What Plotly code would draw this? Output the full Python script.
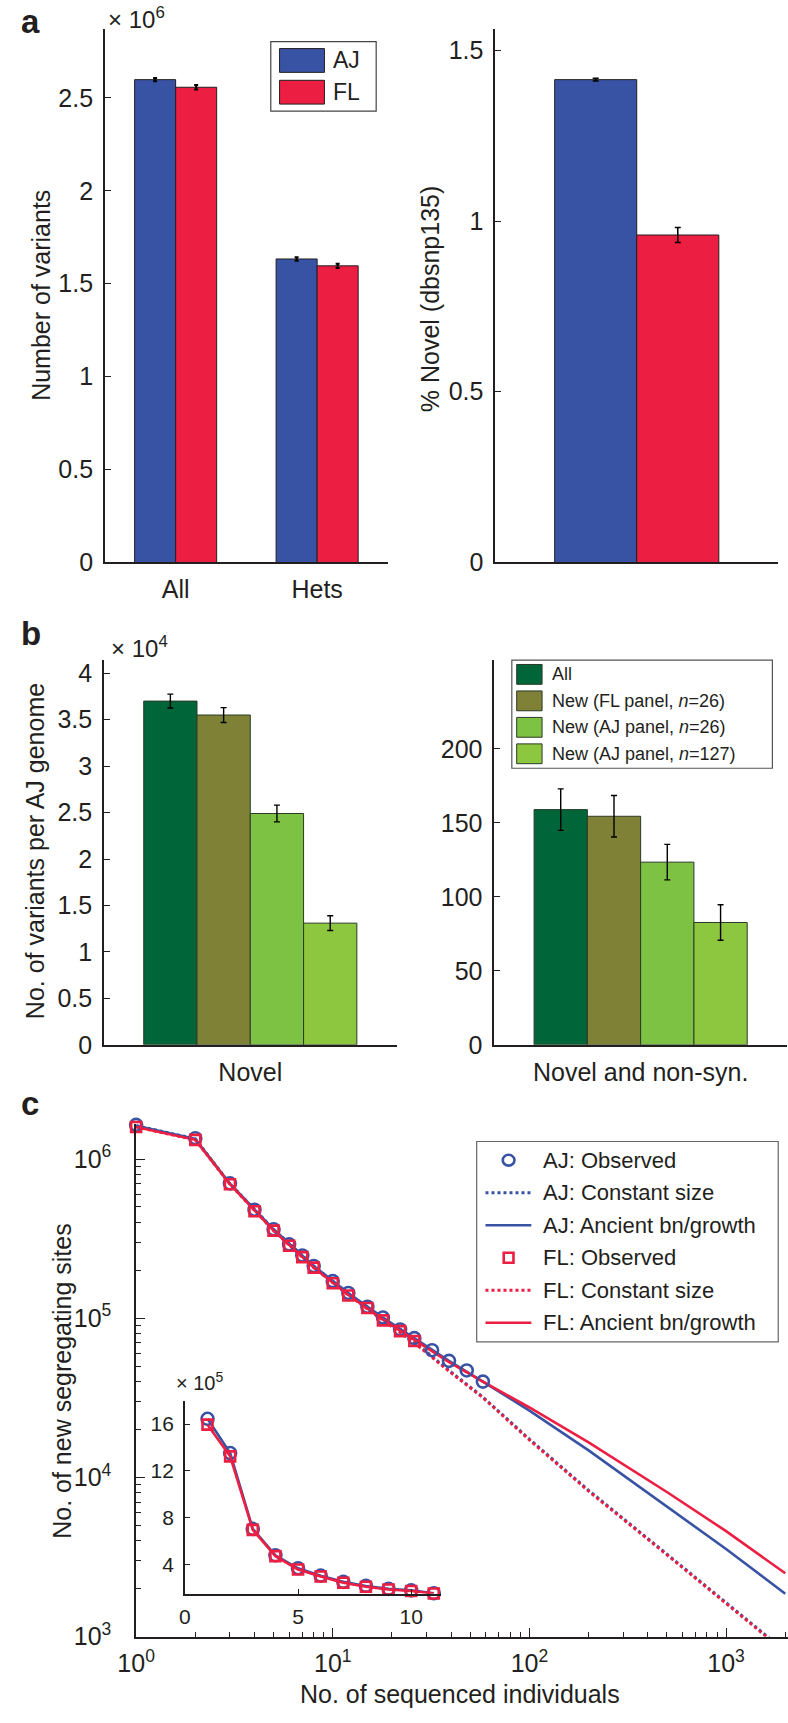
import plotly.graph_objects as go

W, H = 788, 1723


def fx(p):
    return p / W


def fy(p):
    return 1 - p / H


FONT = "Liberation Sans, Arial, Helvetica, sans-serif"
INK = "#231f20"
BLUE = "#3953a4"
RED = "#ec1e42"

# ---------------- panel a ----------------
a_categories = ["All", "Hets"]
a_pops = ["AJ", "FL"]
a_pop_colors = [BLUE, RED]
a_aj_variants = [2.598e6, 1.633e6]
a_aj_err = [0.009e6, 0.009e6]
a_fl_variants = [2.557e6, 1.596e6]
a_fl_err = [0.012e6, 0.011e6]
a_novel_pct = [1.414, 0.959]          # AJ, FL
a_novel_err = [0.004, 0.022]

# ---------------- panel b ----------------
b_sets = ["All", "New (FL panel, <i>n</i>=26)", "New (AJ panel, <i>n</i>=26)",
          "New (AJ panel, <i>n</i>=127)"]
b_colors = ["#00663a", "#7f8236", "#7dc242", "#8dc63f"]
b_categories = ["Novel", "Novel and non-syn."]
b_novel = [3.70e4, 3.55e4, 2.49e4, 1.31e4]
b_novel_err = [0.075e4, 0.08e4, 0.09e4, 0.08e4]
b_nonsyn = [159, 154.5, 123.5, 82.7]
b_nonsyn_err = [14, 14, 12, 12]

# ---------------- panel c ----------------
c_n_aj = [1, 2, 3, 4, 5, 6, 7, 8, 10, 12, 15, 18, 22, 26, 32, 39, 48, 58]
c_obs_aj = [1.64e6, 1.35e6, 7.03e5, 4.80e5, 3.62e5, 2.91e5, 2.48e5, 2.13e5, 1.71e5,
            1.44e5, 1.18e5, 1.01e5, 8.5e4, 7.5e4, 6.3e4, 5.4e4, 4.7e4, 4.0e4]
c_n_fl = [1, 2, 3, 4, 5, 6, 7, 8, 10, 12, 15, 18, 22, 26]
c_obs_fl = [1.59e6, 1.32e6, 6.95e5, 4.70e5, 3.55e5, 2.85e5, 2.42e5, 2.08e5, 1.66e5,
            1.39e5, 1.16e5, 9.7e4, 8.3e4, 7.2e4]
c_n_model = [1, 2, 3, 5, 8, 12, 18, 26, 39, 58, 100, 200, 500, 1000, 2000]
c_const_aj = [1.62e6, 1.34e6, 7.0e5, 3.62e5, 2.13e5, 1.42e5, 9.8e4, 7.1e4, 4.7e4,
              3.2e4, 1.74e4, 8.3e3, 3.3e3, 1.64e3, 8.1e2]
c_const_fl = [1.59e6, 1.32e6, 6.95e5, 3.55e5, 2.08e5, 1.40e5, 9.7e4, 7.0e4, 4.65e4,
              3.17e4, 1.72e4, 8.2e3, 3.27e3, 1.63e3, 8.0e2]
c_growth_aj = [1.62e6, 1.34e6, 7.0e5, 3.62e5, 2.13e5, 1.44e5, 1.01e5, 7.5e4, 5.4e4,
               4.0e4, 2.63e4, 1.48e4, 6.6e3, 3.55e3, 1.86e3]
c_growth_fl = [1.59e6, 1.32e6, 6.95e5, 3.55e5, 2.08e5, 1.40e5, 9.8e4, 7.3e4, 5.3e4,
               4.0e4, 2.75e4, 1.66e4, 8.1e3, 4.6e3, 2.5e3]
c_legend = ["AJ: Observed", "AJ: Constant size", "AJ: Ancient bn/growth",
            "FL: Observed", "FL: Constant size", "FL: Ancient bn/growth"]

# inset (values in units of 1e5)
inset_n = [1, 2, 3, 4, 5, 6, 7, 8, 9, 10, 11]
inset_aj = [16.45, 13.52, 7.03, 4.77, 3.66, 3.03, 2.50, 2.15, 1.90, 1.77, 1.52]
inset_fl = [15.95, 13.24, 6.95, 4.70, 3.55, 2.95, 2.42, 2.08, 1.85, 1.72, 1.50]

fig = go.Figure()

# ---- panel a bars
bar_w_a = 0.29
for i, (vals, errs) in enumerate([(a_aj_variants, a_aj_err), (a_fl_variants, a_fl_err)]):
    fig.add_trace(go.Bar(
        x=a_categories, y=[v / 1e6 for v in vals], offset=-bar_w_a + i * bar_w_a, width=bar_w_a,
        marker=dict(color=a_pop_colors[i], line=dict(color=INK, width=1)),
        error_y=dict(type="data", array=[e / 1e6 for e in errs], color="black", thickness=2, width=2),
        xaxis="x", yaxis="y", showlegend=False, name=a_pops[i]))
for i in range(2):
    fig.add_trace(go.Bar(
        x=["novel"], y=[a_novel_pct[i]], offset=-bar_w_a + i * bar_w_a, width=bar_w_a,
        marker=dict(color=a_pop_colors[i], line=dict(color=INK, width=1)),
        error_y=dict(type="data", array=[a_novel_err[i]], color="black", thickness=1.6, width=3),
        xaxis="x2", yaxis="y2", showlegend=False, name=a_pops[i]))

# ---- panel b bars
bar_w_b = 0.182
for i in range(4):
    fig.add_trace(go.Bar(
        x=[b_categories[0]], y=[b_novel[i] / 1e4], offset=-2 * bar_w_b + i * bar_w_b, width=bar_w_b,
        marker=dict(color=b_colors[i], line=dict(color="#2b3a27", width=1)),
        error_y=dict(type="data", array=[b_novel_err[i] / 1e4], color="black", thickness=1.4, width=3),
        xaxis="x3", yaxis="y3", showlegend=False, name=b_sets[i]))
    fig.add_trace(go.Bar(
        x=[b_categories[1]], y=[b_nonsyn[i]], offset=-2 * bar_w_b + i * bar_w_b, width=bar_w_b,
        marker=dict(color=b_colors[i], line=dict(color="#2b3a27", width=1)),
        error_y=dict(type="data", array=[b_nonsyn_err[i]], color="black", thickness=1.4, width=3),
        xaxis="x4", yaxis="y4", showlegend=False, name=b_sets[i]))

# ---- panel c main
fig.add_trace(go.Scatter(x=c_n_model, y=c_const_aj, mode="lines",
                         line=dict(color=BLUE, width=3, dash="dot"), xaxis="x5", yaxis="y5",
                         showlegend=False, name=c_legend[1]))
fig.add_trace(go.Scatter(x=c_n_model, y=c_const_fl, mode="lines",
                         line=dict(color=RED, width=3, dash="dot"), xaxis="x5", yaxis="y5",
                         showlegend=False, name=c_legend[4]))
fig.add_trace(go.Scatter(x=c_n_model, y=c_growth_aj, mode="lines",
                         line=dict(color=BLUE, width=2.6), xaxis="x5", yaxis="y5",
                         showlegend=False, name=c_legend[2]))
fig.add_trace(go.Scatter(x=c_n_model, y=c_growth_fl, mode="lines",
                         line=dict(color=RED, width=2.6), xaxis="x5", yaxis="y5",
                         showlegend=False, name=c_legend[5]))
fig.add_trace(go.Scatter(x=c_n_aj, y=c_obs_aj, mode="markers", cliponaxis=False,
                         marker=dict(symbol="circle-open", size=12, color=BLUE, line=dict(width=2.6)),
                         xaxis="x5", yaxis="y5", showlegend=False, name=c_legend[0]))
fig.add_trace(go.Scatter(x=c_n_fl, y=c_obs_fl, mode="markers", cliponaxis=False,
                         marker=dict(symbol="square-open", size=10, color=RED, line=dict(width=2.6)),
                         xaxis="x5", yaxis="y5", showlegend=False, name=c_legend[3]))

# ---- inset
fig.add_trace(go.Scatter(x=inset_n, y=inset_aj, mode="lines+markers", cliponaxis=False,
                         line=dict(color=BLUE, width=2.6),
                         marker=dict(symbol="circle-open", size=12, color=BLUE, line=dict(width=2.6)),
                         xaxis="x6", yaxis="y6", showlegend=False, name="AJ"))
fig.add_trace(go.Scatter(x=inset_n, y=inset_fl, mode="lines+markers", cliponaxis=False,
                         line=dict(color=RED, width=2.6),
                         marker=dict(symbol="square-open", size=10, color=RED, line=dict(width=2.6)),
                         xaxis="x6", yaxis="y6", showlegend=False, name="FL"))

axis_common = dict(showline=True, linecolor=INK, linewidth=1.5, showgrid=False, zeroline=False,
                   tickcolor=INK, tickfont=dict(size=25, color=INK, family=FONT))
yax = dict(axis_common, ticks="inside", ticklen=6, tickwidth=1.3, ticklabelstandoff=5)
xcat = dict(axis_common, ticks="", type="category", ticklabelstandoff=4)

ya = [fy(566.4), fy(28.7)]
yb = [fy(1053), fy(665)]

# main panel-c y axis: 10^6 at 1168.2 px, 160.6 px per decade
c_top = 6.22
c_top_px = 1168.2 - (c_top - 6) * 160.6

layout = dict(
    width=W, height=H, margin=dict(l=0, r=0, t=0, b=0),
    paper_bgcolor="white", plot_bgcolor="rgba(0,0,0,0)",
    barmode="overlay", font=dict(family=FONT, color=INK),
    xaxis=dict(xcat, domain=[fx(88), fx(378)], range=[-0.5, 1.5], anchor="y"),
    yaxis=dict(yax, domain=ya, range=[0, 2.868], tickvals=[0, 0.5, 1, 1.5, 2, 2.5], anchor="x"),
    xaxis2=dict(xcat, domain=[fx(488), fx(778)], range=[-0.5, 0.5], anchor="y2", showticklabels=False),
    yaxis2=dict(yax, domain=ya, range=[0, 1.561], tickvals=[0, 0.5, 1, 1.5], anchor="x2"),
    xaxis3=dict(xcat, domain=[fx(87), fx(387)], range=[-0.5, 0.5], anchor="y3"),
    yaxis3=dict(yax, domain=yb, range=[0, 4.14], tickvals=[0, 0.5, 1, 1.5, 2, 2.5, 3, 3.5, 4], anchor="x3"),
    xaxis4=dict(xcat, domain=[fx(487), fx(787)], range=[-0.5, 0.5], anchor="y4"),
    yaxis4=dict(yax, domain=yb, range=[0, 260], tickvals=[0, 50, 100, 150, 200], anchor="x4"),
    xaxis5=dict(axis_common, type="log", domain=[fx(120), 1.0], range=[0, 3.315], anchor="y5",
                tickvals=[1, 10, 100, 1000],
                ticktext=["10<sup>0</sup>", "10<sup>1</sup>", "10<sup>2</sup>", "10<sup>3</sup>"],
                ticks="inside", ticklen=9, tickwidth=1.3, ticklabelstandoff=4,
                minor=dict(ticks="inside", ticklen=5, tickwidth=1, tickcolor=INK, dtick="D1", showgrid=False)),
    yaxis5=dict(axis_common, type="log", domain=[fy(1650), fy(c_top_px)], range=[3, c_top], anchor="x5",
                tickvals=[1e3, 1e4, 1e5, 1e6],
                ticktext=["10<sup>3</sup>", "10<sup>4</sup>", "10<sup>5</sup>", "10<sup>6</sup>"],
                ticks="inside", ticklen=9, tickwidth=1.3, ticklabelstandoff=18,
                minor=dict(ticks="inside", ticklen=5, tickwidth=1, tickcolor=INK, dtick="D1", showgrid=False)),
    xaxis6=dict(axis_common, domain=[fx(170), fx(432)], range=[0, 11.3], anchor="y6",
                tickvals=[0, 5, 10], ticks="inside", ticklen=5, ticklabelstandoff=4,
                tickfont=dict(size=21, color=INK, family=FONT)),
    yaxis6=dict(axis_common, domain=[fy(1606.5), fy(1412)], range=[1.5, 18], anchor="x6",
                tickvals=[4, 8, 12, 16], ticks="inside", ticklen=5, ticklabelstandoff=5,
                tickfont=dict(size=21, color=INK, family=FONT)),
)

ann = []


def text(x, y, s, size=25, angle=0, xanchor="center", yanchor="middle"):
    ann.append(dict(x=fx(x), y=fy(y), xref="paper", yref="paper", text=s, showarrow=False,
                    textangle=angle, xanchor=xanchor, yanchor=yanchor,
                    font=dict(size=size, color=INK, family=FONT)))


text(0.5, 0, "<b>a</b>", 33, xanchor="left", yanchor="top")
text(0.5, 617, "<b>b</b>", 33, xanchor="left", yanchor="top")
text(0.5, 1092, "<b>c</b>", 33, xanchor="left", yanchor="top")
text(120, 17, "× 10<sup>6</sup>", 24)
text(123, 652, "× 10<sup>4</sup>", 24)
text(185, 1393, "× 10<sup>5</sup>", 20)
text(23, 297, "Number of variants", 25, -90)
text(422, 300, "% Novel (dbsnp135)", 25, -90)
text(16, 858, "No. of variants per AJ genome", 25, -90)
text(44, 1392, "No. of new segregating sites", 25, -90)
text(452, 1708, "No. of sequenced individuals", 25)

shapes = []


def rect(x0, y0, x1, y1, fill="rgba(0,0,0,0)", line="#555555", lw=1):
    shapes.append(dict(type="rect", xref="paper", yref="paper", x0=fx(x0), x1=fx(x1),
                       y0=fy(y1), y1=fy(y0), fillcolor=fill, line=dict(color=line, width=lw)))


# legend a
rect(258, 41, 366, 111, line="#444444", lw=1.2)
for i, (name, col) in enumerate(zip(a_pops, a_pop_colors)):
    yc = 60 + 32 * i
    rect(267, yc - 12, 313, yc + 12, fill=col, line=INK, lw=1)
    text(320, yc, name, 23, xanchor="left")

# legend b
rect(505, 665, 772, 774, line="#555555", lw=1.2)
for i, (name, col) in enumerate(zip(b_sets, b_colors)):
    yc = 679.3 + 26.7 * i
    rect(510, yc - 10, 536, yc + 10, fill=col, line="#2b3a27", lw=1)
    text(544, yc, name, 18, xanchor="left")

# legend c
rect(469, 1150.5, 778, 1352.6, line="#666666", lw=1.2)
c_leg_style = [("circle", BLUE), ("dot", BLUE), ("solid", BLUE),
               ("square", RED), ("dot", RED), ("solid", RED)]
for i, (name, (kind, col)) in enumerate(zip(c_legend, c_leg_style)):
    yc = 1169.4 + 32.8 * i
    if kind == "circle":
        shapes.append(dict(type="circle", xref="paper", yref="paper", x0=fx(495.7), x1=fx(507.7),
                           y0=fy(yc + 5.5), y1=fy(yc - 5.5), line=dict(color=col, width=2.6)))
    elif kind == "square":
        rect(496.7, yc - 5, 506.7, yc + 5, line=col, lw=2.6)
    else:
        shapes.append(dict(type="line", xref="paper", yref="paper", x0=fx(478), x1=fx(525),
                           y0=fy(yc), y1=fy(yc),
                           line=dict(color=col, width=3 if kind == "dot" else 2.6, dash=kind)))
    text(535, yc, name, 22, xanchor="left")

layout["annotations"] = ann
layout["shapes"] = shapes
fig.update_layout(**layout)
fig.write_html("out.html", config={"displayModeBar": False},
               post_script="document.body.style.margin='0';document.body.style.overflow='hidden';")
